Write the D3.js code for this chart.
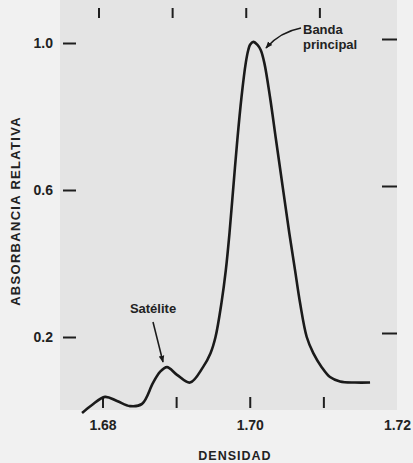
<!DOCTYPE html>
<meta charset="utf-8">
<style>
  body { margin: 0; background: #f1f1f1; }
  svg { display: block; }
  .tick line { stroke: #1e1e1e; stroke-width: 2; }
  .tick text { font-family: "Liberation Sans", Arial, sans-serif; font-weight: 700; font-size: 14px; fill: #222; }
  .lbl { font-family: "Liberation Sans", Arial, sans-serif; font-weight: 700; fill: #222; }
</style>
<body>
<script src="https://cdnjs.cloudflare.com/ajax/libs/d3/7.8.5/d3.min.js"></script>
<script>
// densidad (x) y absorbancia relativa (y)
var densidad = [1.67722, 1.67857, 1.68034, 1.68197, 1.68374, 1.68537, 1.68686, 1.68781,
                1.68876, 1.69012, 1.69189, 1.69365, 1.69467, 1.69535, 1.69616, 1.69675,
                1.69725, 1.69777, 1.69831, 1.69888, 1.69946, 1.69980, 1.70004, 1.70048,
                1.70105, 1.70149, 1.70198, 1.70275, 1.70357, 1.70448, 1.70537, 1.70615,
                1.70683, 1.70774, 1.70863, 1.70977, 1.71090, 1.71226, 1.71430, 1.71634];
var absorbancia = [-0.007, 0.015, 0.037, 0.026, 0.012, 0.018, 0.075, 0.105,
                   0.118, 0.097, 0.076, 0.118, 0.156, 0.200, 0.293, 0.382,
                   0.483, 0.608, 0.736, 0.853, 0.946, 0.981, 0.995, 1.003,
                   0.995, 0.981, 0.946, 0.853, 0.736, 0.608, 0.483, 0.382,
                   0.293, 0.200, 0.156, 0.118, 0.091, 0.079, 0.076, 0.076];

var xTicks = [1.68, 1.69, 1.70, 1.71];
var xLabels = [1.68, 1.70, 1.72];
var yTicks = [0.2, 0.6, 1.0];

var width = 413, height = 463;

var x = d3.scaleLinear().domain([1.68, 1.72]).range([102.5, 397]);
var y = d3.scaleLinear().domain([0, 1]).range([410.5, 43]);

var svg = d3.select("body").append("svg")
    .attr("width", width)
    .attr("height", height);

// zona gris del grafico
svg.append("rect")
    .attr("x", 60).attr("y", 0)
    .attr("width", 337).attr("height", 410)
    .attr("fill", "#e4e4e4");

// marcas superiores
svg.append("g")
    .attr("transform", "translate(-4,18)")
    .call(d3.axisTop(x).tickValues(xTicks).tickSize(10).tickFormat(""))
    .call(g => g.select(".domain").remove());

// marcas inferiores
svg.append("g")
    .attr("transform", "translate(0,408)")
    .call(d3.axisTop(x).tickValues(xTicks).tickSize(11).tickFormat(""))
    .call(g => g.select(".domain").remove());

// etiquetas del eje x
svg.append("g")
    .attr("transform", "translate(0,418)")
    .call(d3.axisBottom(x).tickValues(xLabels).tickSize(0).tickPadding(2).tickFormat(d3.format(".2f")))
    .call(g => g.select(".domain").remove());

// eje y izquierdo
svg.append("g")
    .attr("transform", "translate(76,0)")
    .call(d3.axisLeft(y).tickValues(yTicks).tickSize(13).tickPadding(10).tickFormat(d3.format(".1f")))
    .call(g => g.select(".domain").remove());

// marcas derechas
svg.append("g")
    .attr("transform", "translate(382,-4)")
    .call(d3.axisRight(y).tickValues(yTicks).tickSize(15).tickFormat(""))
    .call(g => g.select(".domain").remove());

// curva
var line = d3.line()
    .x((d, i) => x(densidad[i]))
    .y(d => y(d))
    .curve(d3.curveCatmullRom.alpha(0.5));

svg.append("path")
    .datum(absorbancia)
    .attr("d", line)
    .attr("fill", "none")
    .attr("stroke", "#1a1a1a")
    .attr("stroke-width", 2.6)
    .attr("stroke-linejoin", "round");

// titulos
svg.append("text").attr("class", "lbl")
    .attr("x", 235).attr("y", 460)
    .attr("text-anchor", "middle")
    .style("font-size", "12.5px")
    .style("letter-spacing", "1px")
    .text("DENSIDAD");

svg.append("text").attr("class", "lbl")
    .attr("transform", "translate(20,211) rotate(-90)")
    .attr("text-anchor", "middle")
    .style("font-size", "13px")
    .style("letter-spacing", "1.3px")
    .text("ABSORBANCIA RELATIVA");

// anotaciones
svg.append("defs").append("marker")
    .attr("id", "head")
    .attr("viewBox", "0 0 10 10")
    .attr("refX", 9).attr("refY", 5)
    .attr("markerWidth", 7).attr("markerHeight", 7)
    .attr("markerUnits", "userSpaceOnUse")
    .attr("orient", "auto")
    .append("path")
    .attr("d", "M0,1L10,5L0,9Z")
    .attr("fill", "#1a1a1a");

svg.append("path")
    .attr("d", "M301,28 Q280,32 266,48")
    .attr("fill", "none")
    .attr("stroke", "#1a1a1a")
    .attr("stroke-width", 1.6)
    .attr("marker-end", "url(#head)");

svg.append("path")
    .attr("d", "M153,322 L163,362")
    .attr("fill", "none")
    .attr("stroke", "#1a1a1a")
    .attr("stroke-width", 1.6)
    .attr("marker-end", "url(#head)");

svg.append("text").attr("class", "lbl")
    .attr("x", 303).attr("y", 34)
    .style("font-size", "13px")
    .text("Banda");
svg.append("text").attr("class", "lbl")
    .attr("x", 303).attr("y", 49)
    .style("font-size", "13px")
    .text("principal");

svg.append("text").attr("class", "lbl")
    .attr("x", 153).attr("y", 313)
    .attr("text-anchor", "middle")
    .style("font-size", "13px")
    .text("Satélite");
</script>
</body>
